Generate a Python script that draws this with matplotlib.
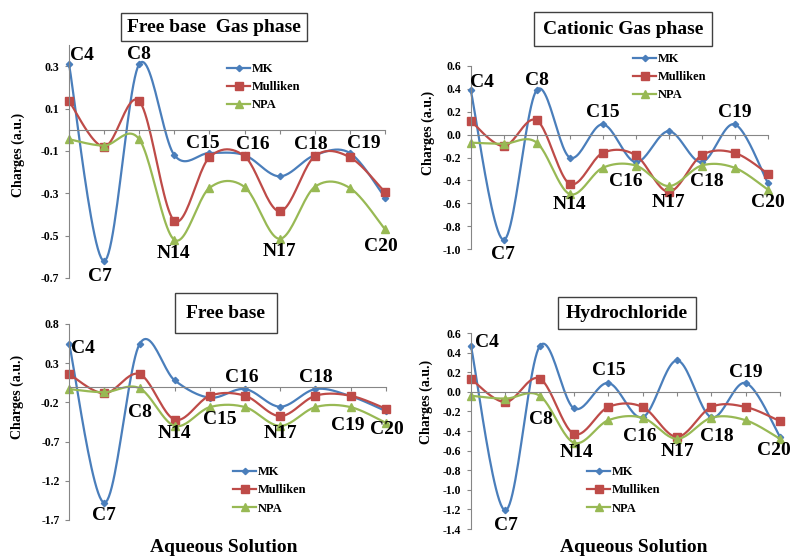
import numpy as np
import matplotlib.pyplot as plt

plt.rcParams['font.family'] = ['Liberation Serif', 'DejaVu Serif']
plt.rcParams['font.weight'] = 'bold'

atoms = ['C4', 'C7', 'C8', 'N14', 'C15', 'C16', 'N17', 'C18', 'C19', 'C20']

# free base, gas phase
gas_fb_mk = [0.31, -0.62, 0.31, -0.12, -0.11, -0.12, -0.22, -0.12, -0.11, -0.32]
gas_fb_mul = [0.135, -0.08, 0.135, -0.43, -0.13, -0.125, -0.385, -0.125, -0.13, -0.295]
gas_fb_npa = [-0.045, -0.075, -0.045, -0.52, -0.275, -0.27, -0.515, -0.27, -0.275, -0.47]
gas_fb_ticks = [0.3, 0.1, -0.1, -0.3, -0.5, -0.7]
gas_fb_ticklabels = ['0.3', '0.1', '-0.1', '-0.3', '-0.5', '-0.7']

# cationic, gas phase
gas_cat_mk = [0.39, -0.92, 0.39, -0.20, 0.09, -0.24, 0.03, -0.24, 0.09, -0.42]
gas_cat_mul = [0.12, -0.10, 0.125, -0.43, -0.16, -0.18, -0.50, -0.18, -0.16, -0.34]
gas_cat_npa = [-0.07, -0.08, -0.07, -0.52, -0.29, -0.27, -0.45, -0.27, -0.29, -0.48]
gas_cat_ticks = [0.6, 0.4, 0.2, 0.0, -0.2, -0.4, -0.6, -0.8, -1.0]
gas_cat_ticklabels = ['0.6', '0.4', '0.2', '0.0', '-0.2', '-0.4', '-0.6', '-0.8', '-1.0']

# free base, aqueous solution
aq_fb_mk = [0.54, -1.48, 0.545, 0.08, -0.14, -0.03, -0.255, -0.03, -0.12, -0.31]
aq_fb_mul = [0.16, -0.085, 0.16, -0.42, -0.115, -0.115, -0.375, -0.115, -0.115, -0.28]
aq_fb_npa = [-0.03, -0.07, -0.02, -0.50, -0.26, -0.26, -0.50, -0.26, -0.26, -0.46]
aq_fb_ticks = [0.8, 0.3, -0.2, -0.7, -1.2, -1.7]
aq_fb_ticklabels = ['0.8', '0.3', '-0.2', '-0.7', '-1.2', '-1.7']

# hydrochloride, aqueous solution
aq_hcl_mk = [0.465, -1.21, 0.465, -0.17, 0.09, -0.26, 0.32, -0.26, 0.09, -0.46]
aq_hcl_mul = [0.13, -0.105, 0.135, -0.43, -0.155, -0.155, -0.46, -0.155, -0.155, -0.30]
aq_hcl_npa = [-0.04, -0.07, -0.04, -0.52, -0.29, -0.265, -0.48, -0.265, -0.29, -0.48]
aq_hcl_ticks = [0.6, 0.4, 0.2, 0.0, -0.2, -0.4, -0.6, -0.8, -1.0, -1.2, -1.4]
aq_hcl_ticklabels = ['0.6', '0.4', '0.2', '0.0', '-0.2', '-0.4', '-0.6',
                     '-0.8', '-1.0', '-1.2', '-1.4']

W, H = 791, 557
BLUE, RED, GREEN = '#4a7ebb', '#be4b48', '#98b954'
GREY = '#868686'


def smooth(y, n=24):
    # excel-like smoothed line (bezier through the points)
    pts = np.column_stack([np.arange(len(y)), y]).astype(float)
    pad = np.vstack([pts[0], pts, pts[-1]])
    t = np.linspace(0, 1, n, endpoint=False)[:, None]
    out = []
    for i in range(len(pts) - 1):
        p0, p1, p2, p3 = pad[i:i + 4]
        b1 = p1 + (p2 - p0) / 6
        b2 = p2 - (p3 - p1) / 6
        seg = ((1 - t)**3 * p1 + 3 * (1 - t)**2 * t * b1
               + 3 * (1 - t) * t**2 * b2 + t**3 * p2)
        out.append(seg)
    out.append(pts[-1:])
    out = np.vstack(out)
    return out[:, 0], out[:, 1], list(range(0, len(out), n))


def fig_rect(left, top, right, bottom):
    return [left / W, 1 - bottom / H, (right - left) / W, (bottom - top) / H]


def draw_panel(fig, rect, ylim, ticks, ticklabels, series, title, title_xy,
               title_pad, legend_xy, ylabel_xy, labels, xlabel=None):
    ax = fig.add_axes(rect)
    mk, mul, npa = series
    styles = [
        ('MK', mk, BLUE, 'D', 3.2),
        ('Mulliken', mul, RED, 's', 5.5),
        ('NPA', npa, GREEN, '^', 5.5),
    ]
    for name, vals, color, marker, ms in styles:
        xs, ys, every = smooth(vals)
        ax.plot(xs, ys, color=color, lw=1.6, marker=marker, ms=ms,
                markevery=every, label=name, clip_on=False)

    ax.set_xlim(0, len(atoms) - 1)
    ax.set_ylim(*ylim)
    ax.set_yticks(ticks)
    ax.set_yticklabels(ticklabels)
    ax.set_xticks(range(len(atoms)))
    ax.set_xticklabels([])
    for s in ['top', 'right']:
        ax.spines[s].set_visible(False)
    ax.spines['left'].set_color(GREY)
    ax.spines['bottom'].set_color(GREY)
    ax.spines['bottom'].set_position(('data', 0))
    ax.spines['left'].set_bounds(ylim[0], ylim[1])
    ax.tick_params(axis='y', direction='out', length=3, color=GREY,
                   labelsize=8.5, pad=4)
    ax.tick_params(axis='x', direction='out', length=3, color=GREY)
    for t in ax.get_yticklabels():
        t.set_fontweight('bold')
    ax.patch.set_alpha(0)
    fig.text(ylabel_xy[0] / W, 1 - ylabel_xy[1] / H, 'Charges (a.u.)',
             fontsize=10, fontweight='bold', rotation=90,
             ha='center', va='center')

    # atom labels next to the points
    for i, (anchor, dx, dy) in enumerate(labels):
        vals = [mk[i], mul[i], npa[i]]
        yv = max(vals) if anchor == 'max' else min(vals)
        ax.annotate(atoms[i], (i, yv), xytext=(dx, dy),
                    textcoords='offset pixels', ha='center', va='center',
                    fontsize=14, fontweight='bold', annotation_clip=False)

    fig.text(title_xy[0] / W, 1 - title_xy[1] / H, title, fontsize=14,
             fontweight='bold', ha='center', va='center',
             bbox=dict(boxstyle=f'square,pad={title_pad}', fc='white',
                       ec='#404040', lw=1))

    ax.legend(loc='upper left',
              bbox_to_anchor=(legend_xy[0] / W, 1 - legend_xy[1] / H),
              bbox_transform=fig.transFigure, frameon=False,
              prop={'size': 9, 'weight': 'bold'}, borderpad=0,
              borderaxespad=0, handlelength=1.85, handletextpad=0.1,
              labelspacing=0.5)

    if xlabel:
        fig.text(xlabel[0] / W, 1 - xlabel[1] / H, 'Aqueous Solution',
                 fontsize=14, fontweight='bold', ha='center', va='center')
    return ax


fig = plt.figure(figsize=(W / 100, H / 100), dpi=100)

draw_panel(
    fig, fig_rect(69, 45, 385, 278), (-0.7, 0.4),
    gas_fb_ticks, gas_fb_ticklabels, (gas_fb_mk, gas_fb_mul, gas_fb_npa),
    'Free base  Gas phase', (214, 27), 0.3, (227, 63), (18, 155),
    [('max', 13, 9), ('min', -4, -15), ('max', 0, 10), ('min', -1, -14),
     ('max', -7, 10), ('max', 8, 11), ('min', 0, -13), ('max', -4, 11),
     ('max', 14, 10), ('min', -4, -17)])

draw_panel(
    fig, fig_rect(470.7, 66, 767.7, 249), (-1.0, 0.6),
    gas_cat_ticks, gas_cat_ticklabels, (gas_cat_mk, gas_cat_mul, gas_cat_npa),
    'Cationic Gas phase', (623, 29), 0.45, (633, 53), (428, 133),
    [('max', 11, 8), ('min', -1, -15), ('max', 0, 10), ('min', 0, -10),
     ('max', 0, 12), ('min', -10, -16), ('min', 0, -11), ('min', 5, -16),
     ('max', 0, 12), ('min', 0, -13)])

draw_panel(
    fig, fig_rect(69.3, 324, 385.7, 520), (-1.7, 0.8),
    aq_fb_ticks, aq_fb_ticklabels, (aq_fb_mk, aq_fb_mul, aq_fb_npa),
    'Free base', (226, 313), 0.6, (233, 466), (17, 397),
    [('max', 14, -4), ('min', -1, -13), ('min', 0, -24), ('min', 0, -8),
     ('min', 10, -12), ('max', -3, 12), ('min', 0, -8), ('max', 0, 12),
     ('min', -3, -18), ('min', 1, -7)],
    xlabel=(224, 548))

draw_panel(
    fig, fig_rect(471, 333, 780, 529), (-1.4, 0.6),
    aq_hcl_ticks, aq_hcl_ticklabels, (aq_hcl_mk, aq_hcl_mul, aq_hcl_npa),
    'Hydrochloride', (627, 313), 0.4, (587, 466), (426, 402),
    [('max', 16, 4), ('min', 1, -15), ('min', 1, -24), ('min', 2, -10),
     ('max', 0, 12), ('min', -3, -19), ('min', 0, -13), ('min', 5, -19),
     ('max', 0, 10), ('min', -6, -12)],
    xlabel=(634, 548))

fig.savefig('out.png', dpi=100)
